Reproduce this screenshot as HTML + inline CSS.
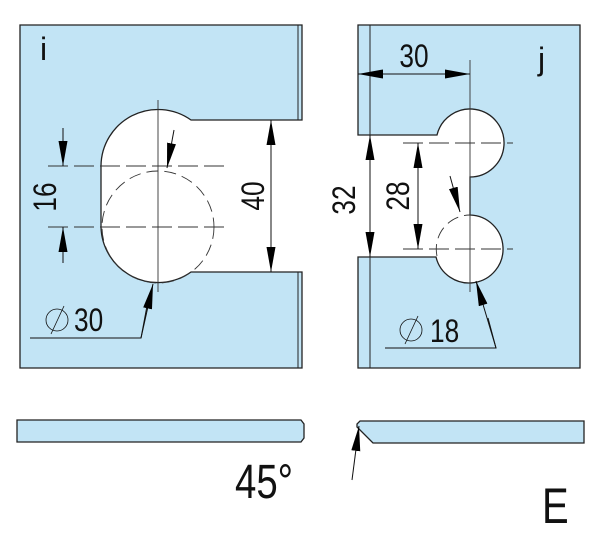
<!DOCTYPE html>
<html><head><meta charset="utf-8"><style>
html,body{margin:0;padding:0;background:#fff;}
svg{display:block;}
text{font-family:"Liberation Sans",sans-serif;fill:#111;}
</style></head><body>
<svg width="600" height="540" viewBox="0 0 600 540" xmlns="http://www.w3.org/2000/svg">
<defs>
<marker id="a" viewBox="0 0 25 9" refX="25" refY="4.5" markerWidth="25" markerHeight="9" markerUnits="userSpaceOnUse" orient="auto"><path d="M0,0 L25,4.5 L0,9 Z" fill="#000"/></marker>
</defs>
<g stroke="#222" stroke-width="1.3" fill="#c2e4f5">
<path d="M20,25 H302 V120 H191 A57 57 0 0 0 101,166 V227 A57 57 0 0 0 191,272 H302 V368 H20 Z"/>
<path d="M358,25 H580 V368 H358 V257 H436 A34 34 0 1 0 470,215 V177 A34 34 0 1 0 437,135 H358 Z"/>
<path d="M17,420 H301 L304,424 V438 L301,442 H17 Z"/>
<path d="M360,421 H584 V443 H373 L357,427 V424 Z"/>
</g>
<g stroke="#222" stroke-width="1" fill="none">
<line x1="298" y1="25" x2="298" y2="120"/>
<line x1="298" y1="272" x2="298" y2="368"/>
<line x1="370" y1="25" x2="370" y2="368"/>
</g>
<g stroke="#333" stroke-width="0.9" fill="none">
<line x1="158" y1="100" x2="158" y2="292"/>
<line x1="470" y1="60" x2="470" y2="292"/>
</g>
<g stroke="#333" stroke-width="0.9" fill="none" stroke-dasharray="20,6">
<line x1="48" y1="166" x2="225" y2="166"/>
<line x1="48" y1="227" x2="225" y2="227"/>
<line x1="403" y1="143" x2="513" y2="143"/>
<line x1="403" y1="249" x2="513" y2="249"/>
</g>
<g stroke="#333" stroke-width="0.9" fill="none" stroke-dasharray="12,6">
<circle cx="158" cy="227" r="56"/>
<path d="M437,256 A34 34 0 0 1 470,215"/>
</g>
<g stroke="#111" stroke-width="1" fill="none">
<line x1="63" y1="128" x2="63" y2="166" marker-end="url(#a)"/>
<line x1="63" y1="263" x2="63" y2="227" marker-end="url(#a)"/>
<line x1="271" y1="196" x2="271" y2="120" marker-end="url(#a)"/>
<line x1="271" y1="196" x2="271" y2="272" marker-end="url(#a)"/>
<line x1="174" y1="130" x2="167" y2="168" marker-end="url(#a)"/>
<polyline points="30,338 141,338 147,306"/>
<line x1="141" y1="338" x2="153" y2="284" marker-end="url(#a)"/>
<line x1="414" y1="74" x2="358" y2="74" marker-end="url(#a)"/>
<line x1="414" y1="74" x2="470" y2="74" marker-end="url(#a)"/>
<line x1="370" y1="196" x2="370" y2="135" marker-end="url(#a)"/>
<line x1="370" y1="196" x2="370" y2="257" marker-end="url(#a)"/>
<line x1="418" y1="196" x2="418" y2="143" marker-end="url(#a)"/>
<line x1="418" y1="196" x2="418" y2="249" marker-end="url(#a)"/>
<line x1="450" y1="176" x2="460" y2="212" marker-end="url(#a)"/>
<polyline points="385,348 496,348 488,318"/>
<line x1="496" y1="348" x2="476" y2="281" marker-end="url(#a)"/>
<line x1="352" y1="480" x2="359" y2="426" marker-end="url(#a)"/>
<line x1="51" y1="334" x2="64" y2="306" stroke-width="0.8"/>
<circle cx="57" cy="320" r="11" stroke-width="0.8"/>
<line x1="405" y1="344" x2="418" y2="316" stroke-width="0.8"/>
<circle cx="411" cy="330" r="11" stroke-width="0.8"/>
</g>
<g font-size="32">
<text transform="translate(56,197) rotate(-90) scale(0.82,1)" text-anchor="middle">16</text>
<text transform="translate(264,196) rotate(-90) scale(0.82,1)" text-anchor="middle">40</text>
<text transform="translate(355,200) rotate(-90) scale(0.82,1)" text-anchor="middle">32</text>
<text transform="translate(409,196) rotate(-90) scale(0.82,1)" text-anchor="middle">28</text>
<text transform="translate(414,67) scale(0.82,1)" text-anchor="middle">30</text>
<text transform="translate(74,331) scale(0.82,1)">30</text>
<text transform="translate(430,342) scale(0.82,1)">18</text>
<text x="40" y="60" font-size="32">i</text>
<text x="538" y="70" font-size="32">j</text>
<text transform="translate(264,498) scale(0.8,1)" text-anchor="middle" font-size="48">45°</text>
<text transform="translate(542,523) scale(0.8,1)" font-size="50">E</text>
</g>
</svg>
</body></html>
